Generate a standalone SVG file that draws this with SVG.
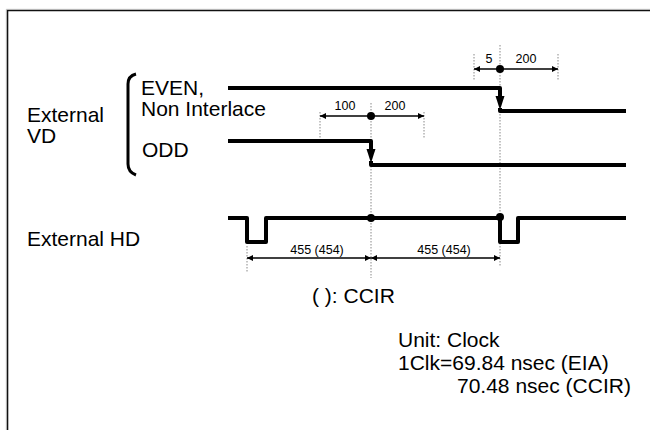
<svg xmlns="http://www.w3.org/2000/svg" width="650" height="430" viewBox="0 0 650 430">
<defs>
<style>
.t{font-family:"Liberation Sans",Arial,sans-serif;font-size:21px;fill:#000}
.s{font-family:"Liberation Sans",Arial,sans-serif;font-size:12.5px;fill:#000}
.w{fill:none;stroke:#000;stroke-width:4;stroke-linejoin:round}
.d{fill:none;stroke:#000;stroke-width:1.5}
.g{fill:none;stroke:#888;stroke-width:1;stroke-dasharray:1.5 1.5}
</style>
<marker id="ah" viewBox="0 0 10 10" refX="10" refY="5" markerWidth="10" markerHeight="6" orient="auto-start-reverse" markerUnits="userSpaceOnUse">
<path d="M0,0 L10,5 L0,10 z" fill="#000"/>
</marker>
</defs>
<rect x="0" y="0" width="650" height="430" fill="#fff"/>
<path d="M7.5,440 V10.5 H660" fill="none" stroke="#111" stroke-width="1.6"/>
<path d="M6.3,440 V9.3 H660" fill="none" stroke="#aaa" stroke-width="0.6"/>

<g id="labels">
<text class="t" x="27" y="122">External</text>
<text class="t" x="27" y="143">VD</text>
<text class="t" x="27" y="246">External HD</text>
<path d="M136,74 Q128,76 128,84 V164 Q128,172 136,175" fill="none" stroke="#000" stroke-width="3"/>
<text class="t" x="141" y="95">EVEN,</text>
<text class="t" x="141" y="116">Non Interlace</text>
<text class="t" x="142" y="157">ODD</text>
<text class="t" x="312" y="303">( ): CCIR</text>
<text class="t" x="398" y="347">Unit: Clock</text>
<text class="t" x="398" y="370">1Clk=69.84 nsec (EIA)</text>
<text class="t" x="457" y="393">70.48 nsec (CCIR)</text>
</g>

<g id="guides">
<line class="g" x1="500" y1="45" x2="500" y2="267"/>
<line class="g" x1="371" y1="103" x2="371" y2="278"/>
<line class="g" x1="474" y1="54" x2="474" y2="80"/>
<line class="g" x1="558" y1="54" x2="558" y2="80"/>
<line class="g" x1="320" y1="112" x2="320" y2="138"/>
<line class="g" x1="424" y1="112" x2="424" y2="138"/>
<line class="g" x1="247" y1="246" x2="247" y2="272"/>
</g>

<g id="even-wave">
<path class="w" d="M228,88 H500 V98"/>
<path d="M495.5,96 H504.5 L500,110 Z" fill="#000"/>
<path class="w" d="M500,108 V111 H626"/>
</g>
<g id="odd-wave">
<path class="w" d="M228,141 H371 V151"/>
<path d="M366.5,149 H375.5 L371,163 Z" fill="#000"/>
<path class="w" d="M371,161 V165 H626"/>
</g>
<g id="hd-wave">
<path class="w" d="M228,218 H247 V242 H266 V218 H500 V242 H518 V218 H626"/>
</g>

<g id="connectors">
<line class="d" x1="474" y1="69" x2="500" y2="69" marker-start="url(#ah)"/>
<line class="d" x1="500" y1="69" x2="558" y2="69" marker-end="url(#ah)"/>
<circle cx="500" cy="69" r="4"/>
<line class="d" x1="320" y1="116" x2="371" y2="116" marker-start="url(#ah)"/>
<line class="d" x1="371" y1="116" x2="424" y2="116" marker-end="url(#ah)"/>
<circle cx="371" cy="116" r="4"/>
<circle cx="371" cy="218" r="4"/>
<circle cx="500" cy="217" r="4"/>
<line class="d" x1="247" y1="258" x2="371" y2="258" marker-start="url(#ah)" marker-end="url(#ah)"/>
<line class="d" x1="371" y1="258" x2="500" y2="258" marker-start="url(#ah)" marker-end="url(#ah)"/>
</g>

<g id="dim-labels">
<text class="s" x="489" y="63" text-anchor="middle">5</text>
<text class="s" x="526" y="63" text-anchor="middle">200</text>
<text class="s" x="345" y="110" text-anchor="middle">100</text>
<text class="s" x="395" y="110" text-anchor="middle">200</text>
<text class="s" x="317" y="254" text-anchor="middle">455 (454)</text>
<text class="s" x="444" y="254" text-anchor="middle">455 (454)</text>
</g>
</svg>
